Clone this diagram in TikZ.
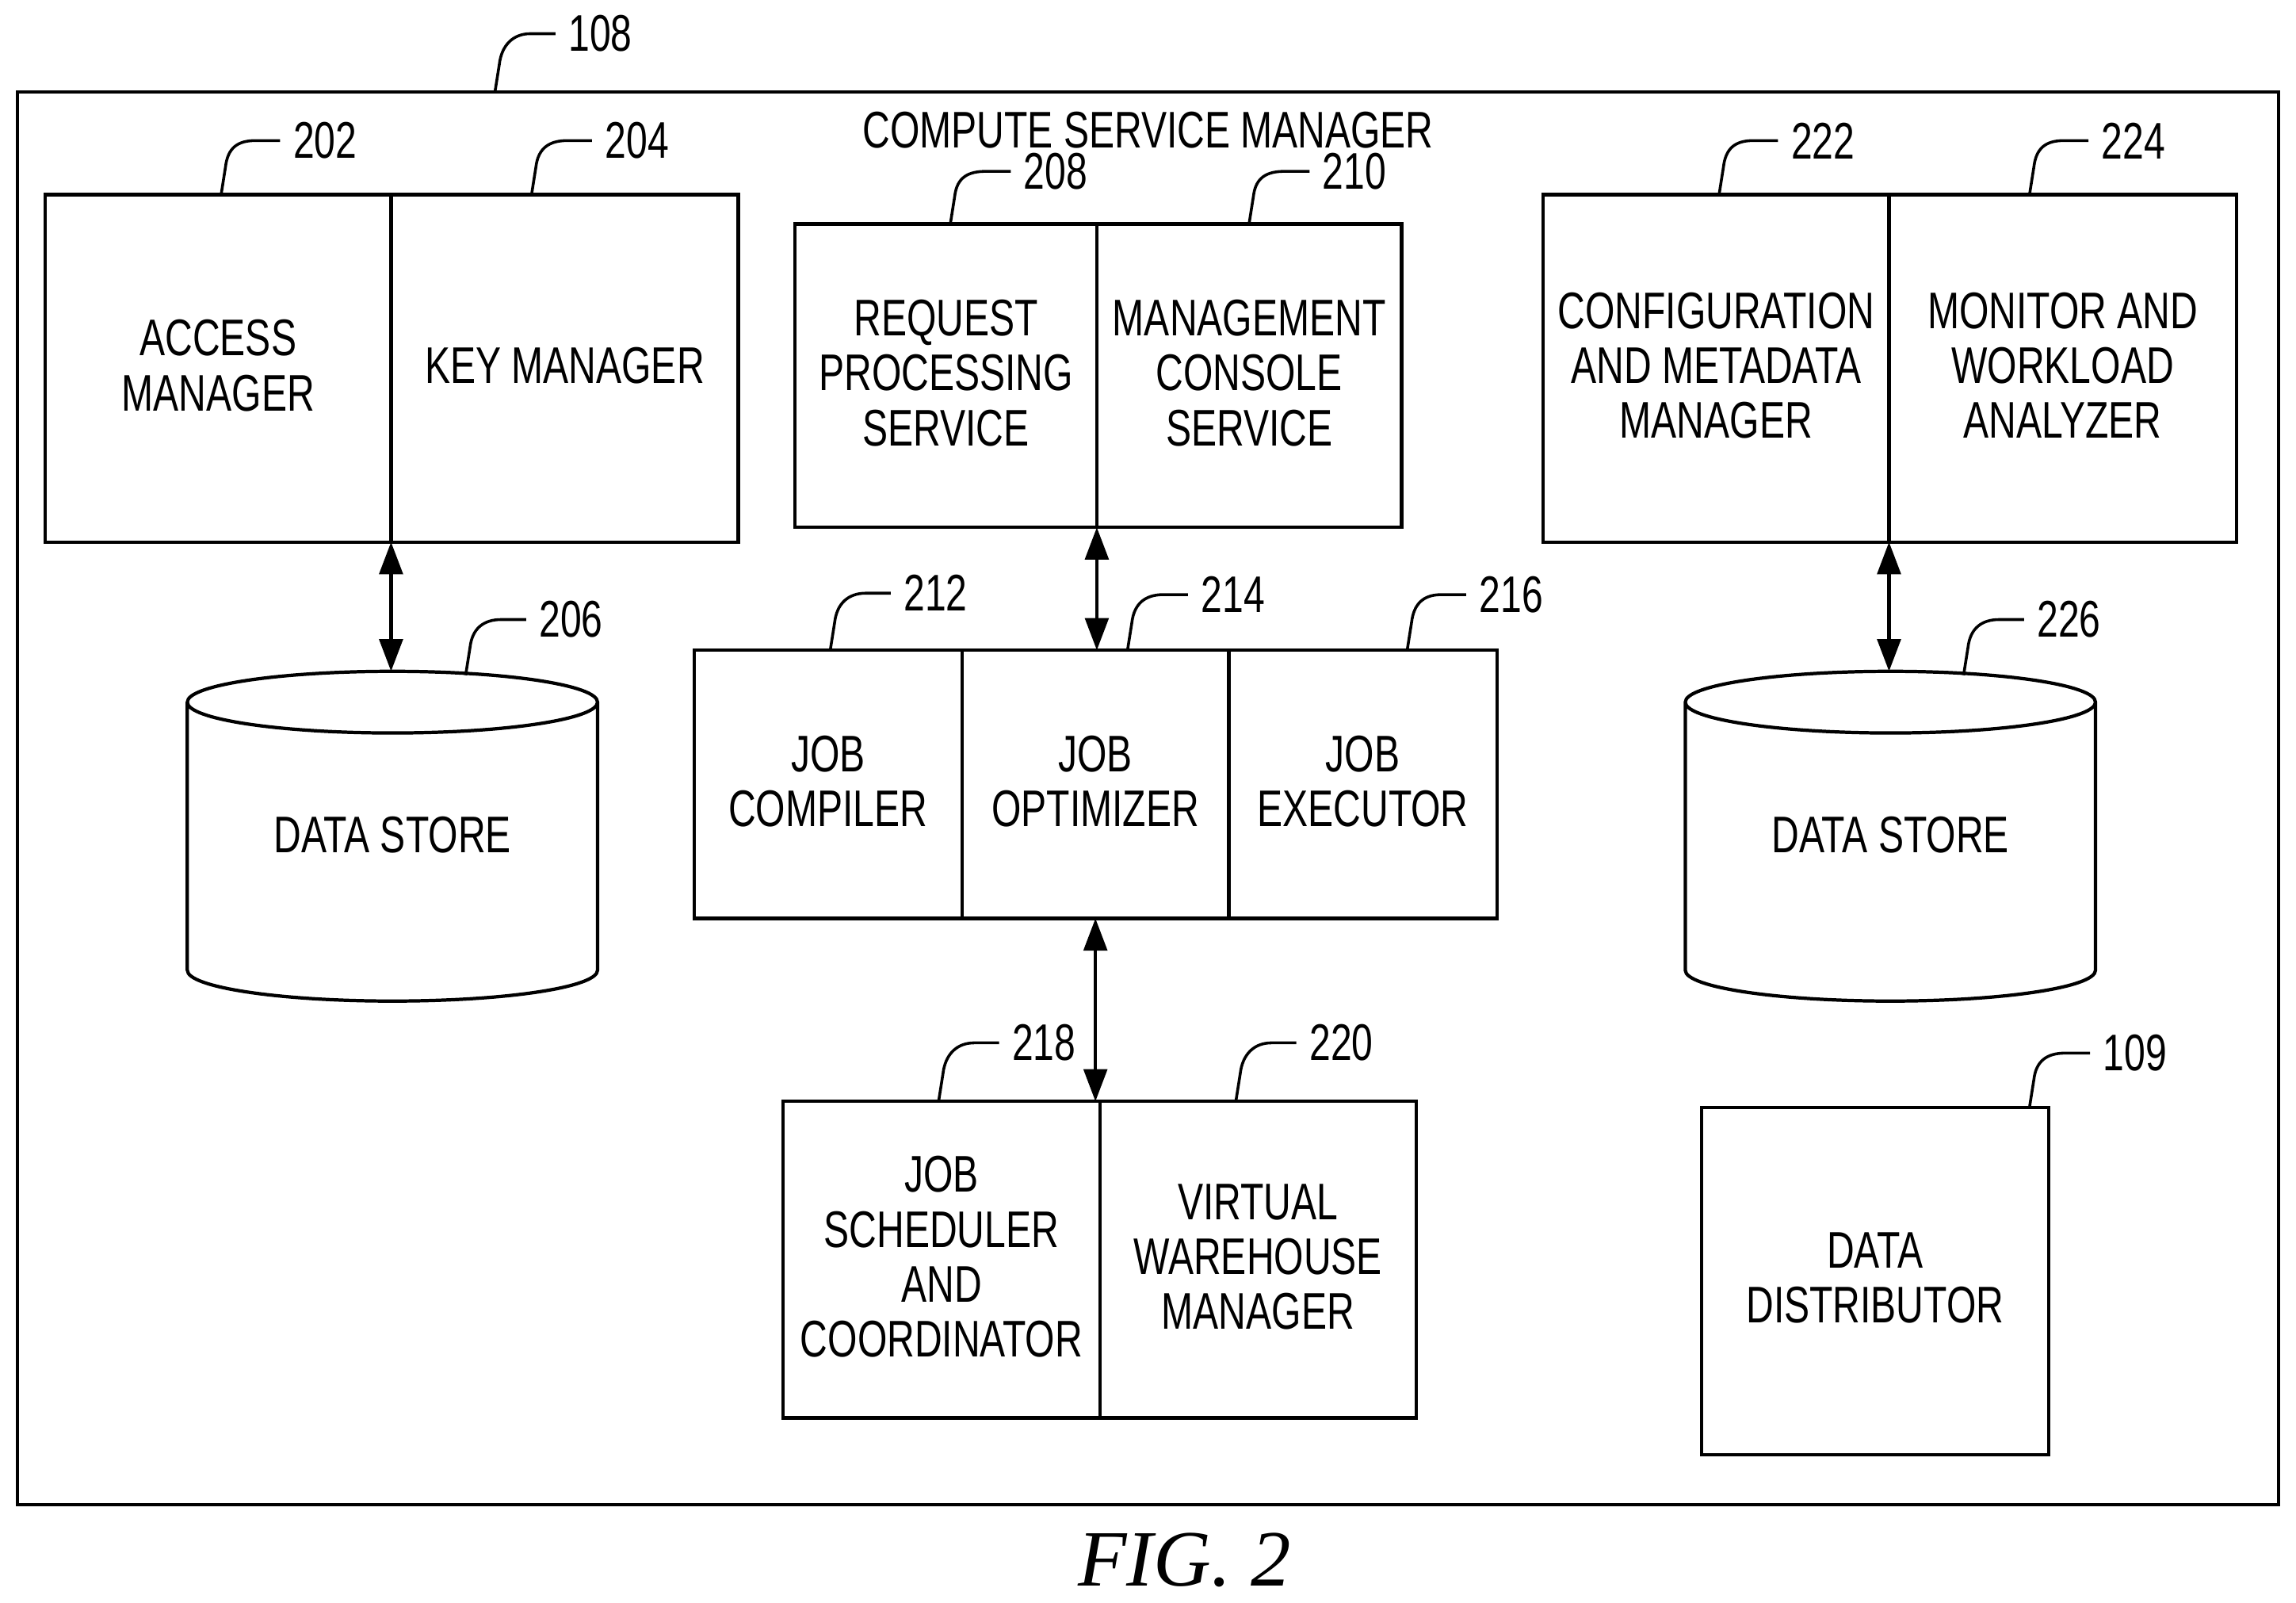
\documentclass[tikz,border=0pt]{standalone}
\usepackage{fontspec}
\setmainfont{Liberation Sans}[FakeStretch=0.74]
\newfontfamily\figfont{Liberation Serif}[Ligatures=TeX]
\usetikzlibrary{arrows.meta, calc, positioning, shapes.geometric}

\begin{document}
\begin{tikzpicture}[
        x=0.01cm,
        y=-0.01cm,
        >={Stealth[length=2.2mm,width=1.6mm,inset=0pt]},
        line width=0.65pt,
        font=\fontsize{10}{10.67}\selectfont,
        block/.style={draw=black, fill=white, align=center, outer sep=0pt, inner sep=0pt, execute at end node={\rule[-1.14pt]{0pt}{0pt}}},
        store/.style={block, cylinder, shape border rotate=90, aspect=0.26, minimum width=2.8cm, minimum height=2.25cm, execute at end node={\rule[-6.86pt]{0pt}{0pt}}},
        tag/.style={inner xsep=0.09cm, inner ysep=0pt, outer sep=0pt},
        leader/.style={line width=0.55pt, to path={(\tikztostart) -- ++(3,-19) .. controls +(1.5,-13) and ($(\tikztotarget)+(-29,0)$) .. ($(\tikztotarget)+(-17,0)$) -- (\tikztotarget)}},
        link/.style={<->}
    ]
    \useasboundingbox (0,0) rectangle (1568,1094.4);

    % frame
    \node[block, minimum width=15.43cm, minimum height=9.64cm] (frame) at (784,545) {};
    \node (title) at (784,89) {COMPUTE SERVICE MANAGER};
    \node[font=\figfont\fontsize{15.5}{18}\selectfont\itshape] (fig) at (809,1065) {FIG. 2};

    % left column
    \node[block, minimum width=2.36cm, minimum height=2.37cm] (b202) at (149,251.5) {ACCESS\\MANAGER};
    \node[block, minimum width=2.37cm, minimum height=2.37cm, right=0pt of b202] (b204) {KEY MANAGER};
    \node[store] (b206) at (268,582) {DATA STORE};

    % middle column
    \node[block, minimum width=2.06cm, minimum height=2.07cm] (b208) at (646,256.5) {REQUEST\\PROCESSING\\SERVICE};
    \node[block, minimum width=2.08cm, minimum height=2.07cm, right=0pt of b208] (b210) {MANAGEMENT\\CONSOLE\\SERVICE};
    \node[block, minimum width=1.83cm, minimum height=1.83cm] (b212) at (565.5,535.5) {JOB\\COMPILER};
    \node[block, minimum width=1.82cm, minimum height=1.83cm, right=0pt of b212] (b214) {JOB\\OPTIMIZER};
    \node[block, minimum width=1.83cm, minimum height=1.83cm, right=0pt of b214] (b216) {JOB\\EXECUTOR};
    \node[block, minimum width=2.16cm, minimum height=2.16cm] (b218) at (643,860) {JOB\\SCHEDULER\\AND\\COORDINATOR};
    \node[block, minimum width=2.16cm, minimum height=2.16cm, right=0pt of b218] (b220) {VIRTUAL\\WAREHOUSE\\MANAGER};

    % right column
    \node[block, minimum width=2.36cm, minimum height=2.37cm] (b222) at (1172,251.5) {CONFIGURATION\\AND METADATA\\MANAGER};
    \node[block, minimum width=2.37cm, minimum height=2.37cm, right=0pt of b222] (b224) {MONITOR AND\\WORKLOAD\\ANALYZER};
    \node[store] (b226) at (1291,582) {DATA STORE};
    \node[block, minimum width=2.37cm, minimum height=2.37cm] (b109) at (1280.5,874.5) {DATA\\DISTRIBUTOR};

    % reference numerals
    \node[tag] (n108) at (410,23) {108};
    \node[tag] (n202) at (222,96) {202};
    \node[tag] (n204) at (435,96) {204};
    \node[tag] (n206) at (390,423) {206};
    \node[tag] (n208) at (721,117) {208};
    \node[tag] (n210) at (925,117) {210};
    \node[tag] (n212) at (639,405) {212};
    \node[tag] (n214) at (842,406) {214};
    \node[tag] (n216) at (1032,406) {216};
    \node[tag] (n218) at (713,712) {218};
    \node[tag] (n220) at (916,712) {220};
    \node[tag] (n222) at (1245,96) {222};
    \node[tag] (n224) at (1457,96) {224};
    \node[tag] (n226) at (1413,423) {226};
    \node[tag] (n109) at (1458,719) {109};

    \coordinate (t108) at (338,63);
    \coordinate (t202) at (151,133);
    \coordinate (t204) at (363,133);
    \coordinate (t206) at (318,461);
    \coordinate (t208) at (649,153);
    \coordinate (t210) at (853,153);
    \coordinate (t212) at (567,444);
    \coordinate (t214) at (770,444);
    \coordinate (t216) at (961,444);
    \coordinate (t218) at (641,752);
    \coordinate (t220) at (844,752);
    \coordinate (t222) at (1174,133);
    \coordinate (t224) at (1386,133);
    \coordinate (t226) at (1341,461);
    \coordinate (t109) at (1386,756);

    \path (t108) edge[leader] (n108.west)
    (t202) edge[leader] (n202.west)
    (t204) edge[leader] (n204.west)
    (t206) edge[leader] (n206.west)
    (t208) edge[leader] (n208.west)
    (t210) edge[leader] (n210.west)
    (t212) edge[leader] (n212.west)
    (t214) edge[leader] (n214.west)
    (t216) edge[leader] (n216.west)
    (t218) edge[leader] (n218.west)
    (t220) edge[leader] (n220.west)
    (t222) edge[leader] (n222.west)
    (t224) edge[leader] (n224.west)
    (t226) edge[leader] (n226.west)
    (t109) edge[leader] (n109.west);

    % links
    \draw[link] (b202.south east) -- (b202.south east |- b206.north);
    \draw[link] (b222.south east) -- (b222.south east |- b226.north);
    \draw[link] (b208.south east) -- (b208.south east |- b214.north);
    \draw[link] (b214.south) -- (b214.south |- b218.north);
\end{tikzpicture}
\end{document}
